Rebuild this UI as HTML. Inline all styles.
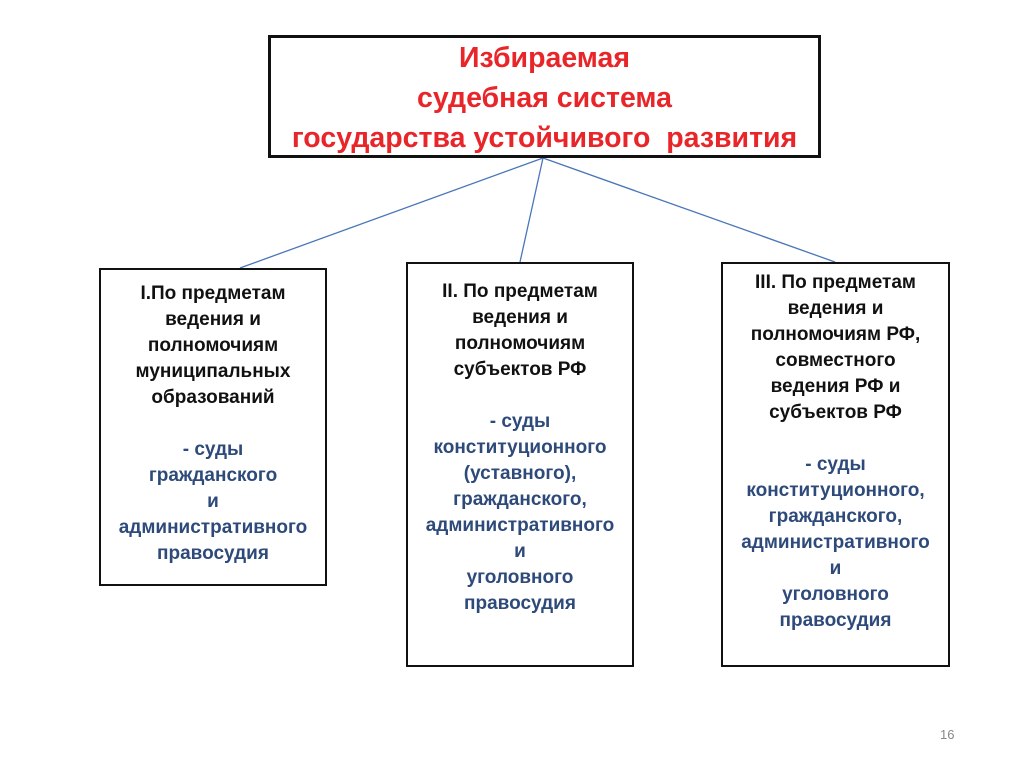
<!DOCTYPE html>
<html><head><meta charset="utf-8"><style>
body{margin:0;width:1024px;height:767px;background:#fff;position:relative;overflow:hidden;font-family:"Liberation Sans","DejaVu Sans",sans-serif;}
.b{position:absolute;border:2px solid #111;box-sizing:border-box;text-align:center;font-weight:bold;font-size:19px;line-height:26px;color:#111;white-space:nowrap;}
.bl{color:#2e4a7a;}
#t{left:268px;top:35px;width:553px;height:123px;color:#e8262a;font-size:28.5px;line-height:40px;padding-top:0px;border-width:3px;}
</style></head><body>
<svg width="1024" height="767" style="position:absolute;left:0;top:0">
<g stroke="#4a76b8" stroke-width="1.3">
<line x1="543" y1="158" x2="240" y2="268"/>
<line x1="543" y1="158" x2="520" y2="262"/>
<line x1="543" y1="158" x2="835" y2="262"/>
</g></svg>
<div class="b" id="t">Избираемая<br>судебная система<br>государства устойчивого&nbsp; развития</div>
<div class="b" style="left:99px;top:268px;width:228px;height:318px;padding-top:11px">I.По предметам<br>ведения и<br>полномочиям<br>муниципальных<br>образований<br><br><span class="bl">- суды<br>гражданского<br>и<br>административного<br>правосудия</span></div>
<div class="b" style="left:406px;top:262px;width:228px;height:405px;padding-top:15px">II. По предметам<br>ведения и<br>полномочиям<br>субъектов РФ<br><br><span class="bl">- суды<br>конституционного<br>(уставного),<br>гражданского,<br>административного<br>и<br>уголовного<br>правосудия</span></div>
<div class="b" style="left:721px;top:262px;width:229px;height:405px;padding-top:6px">III. По предметам<br>ведения и<br>полномочиям РФ,<br>совместного<br>ведения РФ и<br>субъектов РФ<br><br><span class="bl">- суды<br>конституционного,<br>гражданского,<br>административного<br>и<br>уголовного<br>правосудия</span></div>
<div style="position:absolute;left:940px;top:727px;font-size:13px;color:#888">16</div>
</body></html>
